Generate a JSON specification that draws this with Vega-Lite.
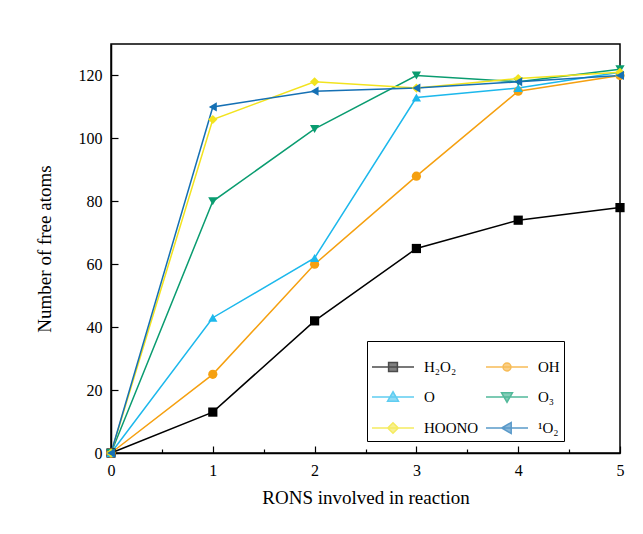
{
  "$schema": "https://vega.github.io/schema/vega-lite/v6.json",
  "width": 509,
  "height": 409,
  "autosize": "none",
  "padding": {"left": 111, "top": 44, "right": 23, "bottom": 81},
  "background": "white",
  "config": {
    "view": {"stroke": "black", "strokeWidth": 1.5},
    "axis": {
      "labelFont": "Liberation Serif",
      "labelFontSize": 16,
      "labelColor": "black",
      "titleFont": "Liberation Serif",
      "titleFontSize": 19,
      "titleFontWeight": "normal",
      "titleColor": "black",
      "domainColor": "black",
      "domainWidth": 1.5,
      "tickColor": "black",
      "tickWidth": 1.2,
      "grid": false
    },
    "legend": {
      "labelFont": "Liberation Serif",
      "labelFontSize": 15,
      "labelColor": "black",
      "orient": "none",
      "legendX": 256,
      "legendY": 297,
      "direction": "horizontal",
      "columns": 2,
      "columnPadding": 4,
      "rowPadding": 0,
      "padding": 4,
      "strokeColor": "black",
      "fillColor": "white",
      "symbolSize": 1764,
      "symbolStrokeWidth": 1.5,
      "labelOffset": 9
    }
  },
  "data": {
    "values": [
      {"x": 0, "y": 0, "s": "H₂O₂"}, {"x": 1, "y": 13, "s": "H₂O₂"}, {"x": 2, "y": 42, "s": "H₂O₂"}, {"x": 3, "y": 65, "s": "H₂O₂"}, {"x": 4, "y": 74, "s": "H₂O₂"}, {"x": 5, "y": 78, "s": "H₂O₂"},
      {"x": 0, "y": 0, "s": "OH"}, {"x": 1, "y": 25, "s": "OH"}, {"x": 2, "y": 60, "s": "OH"}, {"x": 3, "y": 88, "s": "OH"}, {"x": 4, "y": 115, "s": "OH"}, {"x": 5, "y": 120, "s": "OH"},
      {"x": 0, "y": 0, "s": "O"}, {"x": 1, "y": 43, "s": "O"}, {"x": 2, "y": 62, "s": "O"}, {"x": 3, "y": 113, "s": "O"}, {"x": 4, "y": 116, "s": "O"}, {"x": 5, "y": 121, "s": "O"},
      {"x": 0, "y": 0, "s": "O₃"}, {"x": 1, "y": 80, "s": "O₃"}, {"x": 2, "y": 103, "s": "O₃"}, {"x": 3, "y": 120, "s": "O₃"}, {"x": 4, "y": 118, "s": "O₃"}, {"x": 5, "y": 122, "s": "O₃"},
      {"x": 0, "y": 0, "s": "HOONO"}, {"x": 1, "y": 106, "s": "HOONO"}, {"x": 2, "y": 118, "s": "HOONO"}, {"x": 3, "y": 116, "s": "HOONO"}, {"x": 4, "y": 119, "s": "HOONO"}, {"x": 5, "y": 121, "s": "HOONO"},
      {"x": 0, "y": 0, "s": "¹O₂"}, {"x": 1, "y": 110, "s": "¹O₂"}, {"x": 2, "y": 115, "s": "¹O₂"}, {"x": 3, "y": 116, "s": "¹O₂"}, {"x": 4, "y": 118, "s": "¹O₂"}, {"x": 5, "y": 120, "s": "¹O₂"}
    ]
  },
  "layer": [
    {
      "mark": {"type": "line", "strokeWidth": 1.5},
      "encoding": {
        "x": {
          "field": "x", "type": "quantitative",
          "scale": {"domain": [0, 5], "nice": false},
          "axis": {
            "orient": "bottom",
            "title": "RONS involved in reaction",
            "values": [0, 0.5, 1, 1.5, 2, 2.5, 3, 3.5, 4, 4.5, 5],
            "labelExpr": "datum.value % 1 === 0 ? format(datum.value, 'd') : ''",
            "tickSize": {"condition": {"test": "datum.value % 1 === 0", "value": -7}, "value": -4},
            "labelPadding": 16,
            "labelFlush": false,
            "titlePadding": 10
          }
        },
        "y": {
          "field": "y", "type": "quantitative",
          "scale": {"domain": [0, 130], "nice": false},
          "axis": {
            "orient": "left",
            "title": "Number of free atoms",
            "values": [0, 10, 20, 30, 40, 50, 60, 70, 80, 90, 100, 110, 120],
            "labelExpr": "datum.value % 20 === 0 ? datum.label : ''",
            "tickSize": {"condition": {"test": "datum.value % 20 === 0", "value": -7}, "value": -4},
            "labelPadding": 16,
            "titlePadding": 24
          }
        },
        "color": {
          "field": "s", "type": "nominal", "legend": null,
          "scale": {
            "domain": ["H₂O₂", "OH", "O", "O₃", "HOONO", "¹O₂"],
            "range": ["#000000", "#F5A010", "#1CB8EC", "#0A9C70", "#F2E31E", "#1570B4"]
          }
        }
      }
    },
    {
      "mark": {"type": "point", "filled": true, "opacity": 1, "size": 85},
      "encoding": {
        "x": {"field": "x", "type": "quantitative"},
        "y": {"field": "y", "type": "quantitative"},
        "color": {"field": "s", "type": "nominal", "legend": null},
        "shape": {
          "field": "s", "type": "nominal", "legend": null,
          "scale": {
            "domain": ["H₂O₂", "OH", "O", "O₃", "HOONO", "¹O₂"],
            "range": ["square", "circle", "triangle-up", "triangle-down", "diamond", "triangle-left"]
          }
        }
      }
    },
    {
      "transform": [{"filter": "datum.x < 0"}],
      "mark": {"type": "point", "filled": true, "strokeWidth": 1.5},
      "encoding": {
        "x": {"field": "x", "type": "quantitative"},
        "y": {"field": "y", "type": "quantitative"},
        "fill": {
          "field": "s", "type": "nominal", "legend": {"title": null},
          "scale": {
            "domain": ["H₂O₂", "OH", "O", "O₃", "HOONO", "¹O₂"],
            "range": ["#000000", "#F5A010", "#1CB8EC", "#0A9C70", "#F2E31E", "#1570B4"]
          }
        },
        "stroke": {
          "field": "s", "type": "nominal", "legend": {"title": null},
          "scale": {
            "domain": ["H₂O₂", "OH", "O", "O₃", "HOONO", "¹O₂"],
            "range": ["#000000", "#F5A010", "#1CB8EC", "#0A9C70", "#F2E31E", "#1570B4"]
          }
        },
        "shape": {
          "field": "s", "type": "nominal", "legend": {"title": null},
          "scale": {
            "domain": ["H₂O₂", "OH", "O", "O₃", "HOONO", "¹O₂"],
            "range": [
              "M-1,0H1M-0.21,-0.21H0.21V0.21H-0.21Z",
              "M-1,0H1M0.19,0A0.19,0.19,0,1,1,-0.19,0A0.19,0.19,0,1,1,0.19,0Z",
              "M-1,0H1M0,-0.25L0.26,0.2H-0.26Z",
              "M-1,0H1M0,0.25L0.26,-0.2H-0.26Z",
              "M-1,0H1M0,-0.25L0.25,0L0,0.25L-0.25,0Z",
              "M-1,0H1M-0.25,0L0.2,-0.26V0.26Z"
            ]
          }
        }
      }
    }
  ],
  "resolve": {
    "scale": {"shape": "independent", "fill": "independent", "stroke": "independent"}
  }
}
